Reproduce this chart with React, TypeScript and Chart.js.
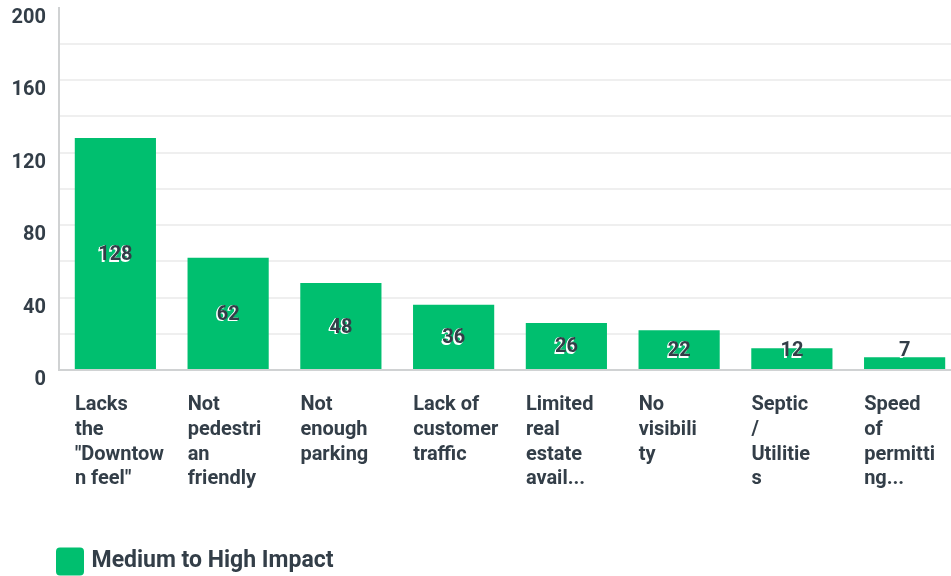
import React, { useEffect, useRef } from 'react';
import { Chart, registerables } from 'chart.js';

Chart.register(...registerables);

const categories = [
  'Lacks the "Downtown feel"',
  'Not pedestrian friendly',
  'Not enough parking',
  'Lack of customer traffic',
  'Limited real estate available',
  'No visibility',
  'Septic / Utilities',
  'Speed of permitting',
];
const tickLabels = [
  ['Lacks', 'the', '"Downtow', 'n feel"'],
  ['Not', 'pedestri', 'an', 'friendly'],
  ['Not', 'enough', 'parking'],
  ['Lack of', 'customer', 'traffic'],
  ['Limited', 'real', 'estate', 'avail...'],
  ['No', 'visibili', 'ty'],
  ['Septic', '/', 'Utilitie', 's'],
  ['Speed', 'of', 'permitti', 'ng...'],
];
const seriesName = 'Medium to High Impact';
const values = [128, 62, 48, 36, 26, 22, 12, 7];
const yTickLabels = [0, 40, 80, 120, 160, 200];

const TEXT = '#333e48';
const GREEN = '#00bf6f';
const AXIS = '#d0d2d3';
const GRID = '#efefef';
const FONT = 'Roboto, "Open Sans", sans-serif';

const valueLabels = {
  id: 'valueLabels',
  afterDatasetsDraw(chart: any) {
    const ctx = chart.ctx;
    const meta = chart.getDatasetMeta(0);
    ctx.save();
    ctx.font = `bold 20px ${FONT}`;
    ctx.textAlign = 'center';
    ctx.textBaseline = 'middle';
    meta.data.forEach((bar: any, i: number) => {
      const v = chart.data.datasets[0].data[i];
      const mid = (bar.y + bar.base) / 2 + 1.5;
      const y = Math.min(mid, bar.base - 18);
      ctx.fillStyle = '#ffffff';
      ctx.fillText(String(v), bar.x - 1.5, y + 1.5);
      ctx.fillText(String(v), bar.x - 1, y);
      ctx.fillStyle = TEXT;
      ctx.fillText(String(v), bar.x, y);
    });
    ctx.restore();
  },
};

const shiftLegend = {
  id: 'shiftLegend',
  afterLayout(chart: any) {
    if (chart.legend) {
      chart.legend.left += 50;
      chart.legend.right += 50;
    }
  },
};

export default function App() {
  const ref = useRef<HTMLCanvasElement | null>(null);
  useEffect(() => {
    if (!ref.current) return;
    const chart = new Chart(ref.current, {
      type: 'bar',
      data: {
        labels: tickLabels as any,
        datasets: [
          {
            label: seriesName,
            data: values,
            backgroundColor: GREEN,
            borderWidth: 0,
          },
        ],
      },
      options: {
        animation: false,
        responsive: true,
        maintainAspectRatio: false,
        layout: { padding: { left: 0, right: 1, top: 7.5, bottom: 0 } },
        plugins: {
          tooltip: {
            callbacks: { title: (items: any[]) => categories[items[0].dataIndex] },
          },
          legend: {
            position: 'bottom',
            align: 'start',
            labels: {
              boxWidth: 20,
              boxHeight: 20,
              padding: 10,
              color: TEXT,
              font: { family: FONT, size: 23, weight: 'bold' },
              generateLabels: (chart: any) =>
                chart.data.datasets.map((ds: any, i: number) => ({
                  text: ds.label,
                  fillStyle: GREEN,
                  strokeStyle: GREEN,
                  lineWidth: 8,
                  lineJoin: 'round',
                  borderRadius: 0,
                  hidden: false,
                  datasetIndex: i,
                  fontColor: TEXT,
                })),
            },
          },
        },
        scales: {
          x: {
            grid: { display: false, drawTicks: false },
            border: { display: true, color: AXIS, width: 2 },
            ticks: {
              align: 'start',
              labelOffset: -40.5,
              padding: 23,
              autoSkip: false,
              maxRotation: 0,
              minRotation: 0,
              color: TEXT,
              font: { family: FONT, size: 20, weight: 'bold', lineHeight: 1.23 },
            },
            afterFit(scale: any) {
              scale.height = 170;
              scale.paddingLeft = 0;
              scale.paddingRight = 0;
            },
          },
          y: {
            min: 0,
            max: 200,
            grid: {
              drawTicks: false,
              color: (c: any) => (c.tick && (c.tick.value === 200 || c.tick.value === 0) ? 'rgba(0,0,0,0)' : GRID),
              lineWidth: 2,
            },
            border: { display: true, color: AXIS, width: 2 },
            ticks: {
              stepSize: 20,
              padding: 13,
              labelOffset: 10,
              color: TEXT,
              font: { family: FONT, size: 20, weight: 'bold' },
              callback: (v: any) => (yTickLabels.includes(Number(v)) ? String(v) : ''),
            },
            afterFit(scale: any) {
              scale.width = 59;
              scale.paddingTop = 0;
              scale.paddingBottom = 0;
            },
          },
        },
      },
      plugins: [valueLabels, shiftLegend],
    });
    return () => chart.destroy();
  }, []);
  return (
    <div style={{ position: 'fixed', left: 0, top: 0, width: 962, height: 583 }}>
      <canvas ref={ref} />
    </div>
  );
}
